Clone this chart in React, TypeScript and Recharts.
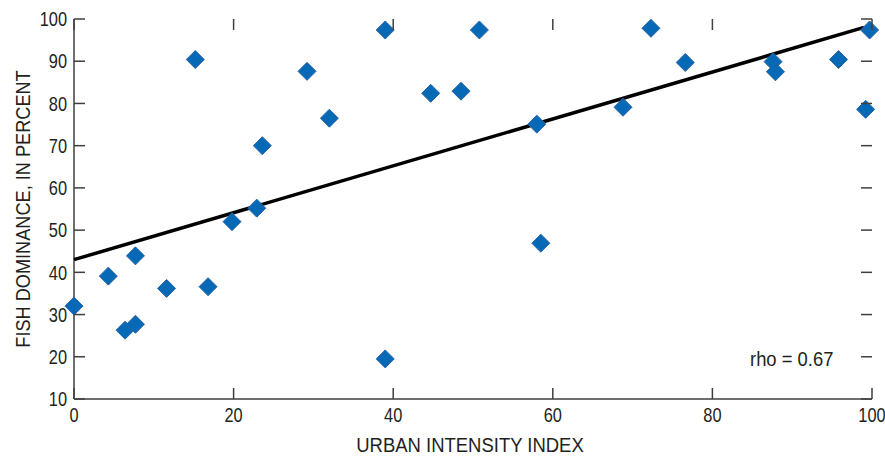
import { ScatterChart, Scatter, XAxis, YAxis, Label } from 'recharts';

// Urban intensity index (x) vs fish dominance percent (y) per site
const urbanIndex = [
  0, 4.3, 6.4, 7.7, 7.7, 11.6, 16.8, 19.8, 22.9, 15.2, 23.6, 29.2, 32.0, 39.0,
  39.0, 44.7, 48.5, 50.8, 58.0, 58.5, 68.8, 72.3, 76.6, 87.6, 87.9, 95.8, 99.7, 99.2,
];
const fishDominance = [
  32.0, 39.1, 26.3, 27.7, 43.9, 36.2, 36.6, 52.0, 55.2, 90.4, 70.0, 87.6, 76.5, 97.4,
  19.5, 82.4, 82.9, 97.4, 75.1, 46.9, 79.1, 97.8, 89.7, 89.9, 87.5, 90.4, 97.4, 78.6,
];

// Fitted trend line end points
const trendX = [0, 99];
const trendY = [43, 98];

const xTicks = [0, 20, 40, 60, 80, 100];
const yTicks = [10, 20, 30, 40, 50, 60, 70, 80, 90, 100];
const rhoText = 'rho = 0.67';

const X_MIN = 0;
const X_MAX = 100;
const Y_MIN = 10;
const Y_MAX = 100;
// inward tick length in data units (~11px on each axis)
const X_TICK = 1.38;
const Y_TICK = 2.6;

const sites = urbanIndex.map((x, i) => ({ x, y: fishDominance[i] }));
const trend = trendX.map((x, i) => ({ x, y: trendY[i] }));

// each tick mark is anchored at its inner end and drawn out to the frame
const frameMarks = [
  ...xTicks.map((x) => ({ x, y: Y_MIN + Y_TICK, side: 'bottom' })),
  ...xTicks.map((x) => ({ x, y: Y_MAX - Y_TICK, side: 'top' })),
  ...yTicks.map((y) => ({ x: X_MIN + X_TICK, y, side: 'left' })),
  ...yTicks.map((y) => ({ x: X_MAX - X_TICK, y, side: 'right' })),
];

const FONT = '"Liberation Sans", Arial, sans-serif';
const INK = '#231f20';
const AXIS = '#3f3f3f';
const TICK_LEN = 11;
// squeeze Liberation Sans horizontally to get a condensed look
const NARROW = 0.82;

const Diamond = (props: any) => {
  const { cx, cy } = props;
  const r = 9;
  return (
    <path
      d={`M${cx},${cy - r}L${cx + r},${cy}L${cx},${cy + r}L${cx - r},${cy}Z`}
      fill="#0669b5"
      stroke="#2a64a8"
      strokeWidth={1}
    />
  );
};

// direction from the inner end out to the frame
const DIRS: Record<string, [number, number]> = {
  bottom: [0, 1],
  top: [0, -1],
  left: [-1, 0],
  right: [1, 0],
};

const FrameMark = (props: any) => {
  const cx = Number(props.cx);
  const cy = Number(props.cy);
  const side = props.payload?.side ?? props.side;
  const [dx, dy] = DIRS[side] ?? [0, 0];
  return (
    <path
      d={`M${cx},${cy}L${cx + dx * TICK_LEN},${cy + dy * TICK_LEN}`}
      stroke={AXIS}
      strokeWidth={1.5}
      fill="none"
    />
  );
};

const BottomTick = (props: any) => {
  const { x, y, payload } = props;
  return (
    <text transform={`translate(${x},${y + 9}) scale(${NARROW},1)`} textAnchor="middle" dy="0.72em"
      fontSize={20} fill={INK} fontFamily={FONT}>
      {payload.value}
    </text>
  );
};

const LeftTick = (props: any) => {
  const { x, y, payload } = props;
  return (
    <text transform={`translate(${x - 7},${y}) scale(${NARROW},1)`} textAnchor="end" dy="0.36em"
      fontSize={20} fill={INK} fontFamily={FONT}>
      {payload.value}
    </text>
  );
};

const XTitle = (props: any) => {
  const { viewBox } = props;
  const cx = viewBox.x + viewBox.width / 2 - 3;
  return (
    <text transform={`translate(${cx},452) scale(0.88,1)`} textAnchor="middle" fontSize={21} fill={INK} fontFamily={FONT}>
      URBAN INTENSITY INDEX
    </text>
  );
};

const YTitle = (props: any) => {
  const { viewBox } = props;
  const cy = viewBox.y + viewBox.height / 2;
  return (
    <text transform={`translate(30,${cy}) rotate(-90) scale(0.865,1)`} textAnchor="middle" fontSize={21} fill={INK} fontFamily={FONT}>
      FISH DOMINANCE, IN PERCENT
    </text>
  );
};

const frameLine = { stroke: AXIS, strokeWidth: 1.5 };

export default function App() {
  return (
    <div style={{ position: 'absolute', left: 0, top: 0, width: 885, height: 458, background: '#fff' }}>
      <ScatterChart width={885} height={458} margin={{ top: 19, right: 13, bottom: 29, left: 24 }}>
        <XAxis
          xAxisId="bottom"
          type="number"
          dataKey="x"
          domain={[X_MIN, X_MAX]}
          ticks={xTicks}
          tickSize={0}
          tickMargin={0}
          height={30}
          tickLine={false}
          tick={BottomTick}
          axisLine={frameLine}
        >
          <Label content={XTitle} />
        </XAxis>
        <XAxis
          xAxisId="top"
          orientation="top"
          type="number"
          dataKey="x"
          domain={[X_MIN, X_MAX]}
          ticks={xTicks}
          height={0}
          tick={false}
          tickLine={false}
          axisLine={frameLine}
        />
        <YAxis
          yAxisId="left"
          type="number"
          dataKey="y"
          domain={[Y_MIN, Y_MAX]}
          ticks={yTicks}
          tickSize={0}
          tickMargin={0}
          width={50}
          tickLine={false}
          tick={LeftTick}
          axisLine={frameLine}
        >
          <Label content={YTitle} />
        </YAxis>
        <YAxis
          yAxisId="right"
          orientation="right"
          type="number"
          dataKey="y"
          domain={[Y_MIN, Y_MAX]}
          ticks={yTicks}
          width={0}
          tick={false}
          tickLine={false}
          axisLine={frameLine}
        />

        <Scatter
          data={trend}
          xAxisId="bottom"
          yAxisId="left"
          line={{ stroke: '#000', strokeWidth: 3.5 }}
          shape={() => null}
          isAnimationActive={false}
        />
        <Scatter
          data={sites}
          xAxisId="bottom"
          yAxisId="left"
          shape={Diamond}
          isAnimationActive={false}
        />
        <Scatter data={frameMarks} xAxisId="bottom" yAxisId="left" shape={FrameMark} isAnimationActive={false} />
      </ScatterChart>
      <div
        style={{
          position: 'absolute',
          left: 750,
          top: 348,
          fontSize: 20,
          fontFamily: FONT,
          color: INK,
          lineHeight: '22px',
          whiteSpace: 'nowrap',
          transform: 'scaleX(0.92)',
          transformOrigin: 'left top',
        }}
      >
        {rhoText}
      </div>
    </div>
  );
}
